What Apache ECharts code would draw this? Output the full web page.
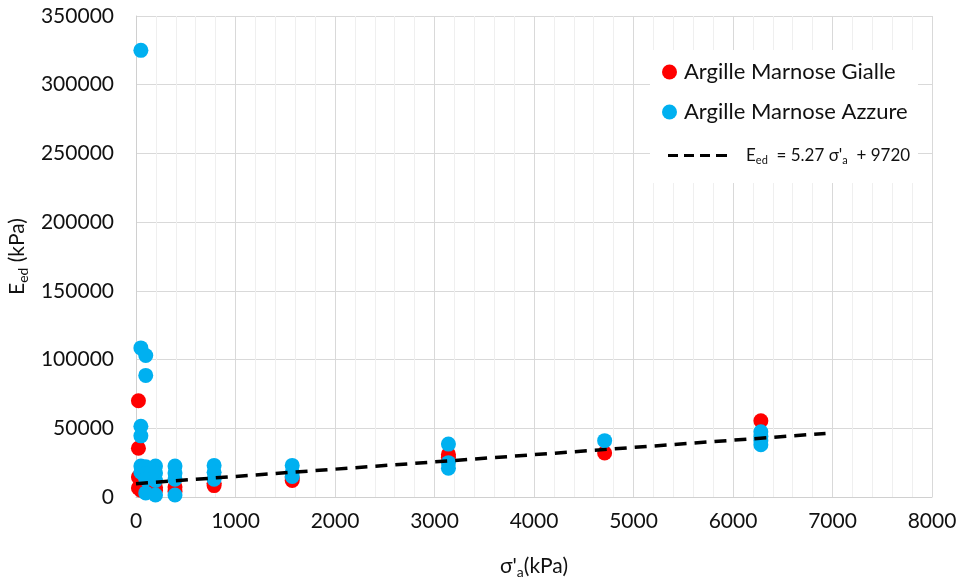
<!DOCTYPE html>
<html>
<head>
<meta charset="utf-8">
<script src="https://cdn.jsdelivr.net/npm/echarts@6/dist/echarts.min.js"></script>
<style>
  html, body { margin: 0; padding: 0; background: #fff; }
  #chart { width: 958px; height: 581px; }
</style>
</head>
<body>
<div id="chart"></div>
<script>
// Oedometer data: vertical stress (kPa) vs oedometric modulus (kPa)
const gialleStress = [24.5, 24.5, 24.5, 24.5, 49, 49, 98, 98, 196, 196, 392, 392, 785, 785, 1570, 1570, 3140, 3140, 4710, 6280];
const gialleModulus = [70000, 35500, 14500, 6500, 12000, 5000, 9500, 5500, 7000, 5000, 7300, 4000, 10000, 8300, 14000, 12000, 31000, 29000, 32000, 55500];

const azzureStress = [49, 49, 98, 98, 49, 49, 49, 49, 98, 98, 98, 98, 196, 196, 196, 196, 392, 392, 392, 392, 785, 785, 785, 1570, 1570, 1570, 3140, 3140, 3140, 4710, 6280, 6280, 6280, 6280];
const azzureModulus = [325000, 108500, 103000, 88500, 51500, 44500, 22500, 18000, 22000, 17000, 13000, 3000, 22500, 17500, 12000, 1500, 22500, 17500, 13000, 1500, 23000, 18000, 13000, 23000, 18000, 15000, 38500, 25000, 21000, 41000, 47500, 44000, 41000, 38000];

// Linear trend: E_ed = 5.27 σ'a + 9720, drawn over this stress range
const trendSlope = 5.27;
const trendIntercept = 9720;
const trendRange = [0, 6930];

const xTicks = [0, 1000, 2000, 3000, 4000, 5000, 6000, 7000, 8000];
const yTicks = [0, 50000, 100000, 150000, 200000, 250000, 300000, 350000];

const pairs = (xs, ys) => xs.map((x, i) => [x, ys[i]]);
const trendData = trendRange.map(x => [x, trendSlope * x + trendIntercept]);

const FONT = 'Lato';
const chart = echarts.init(document.getElementById('chart'), null, { renderer: 'canvas' });

chart.setOption({
  animation: false,
  backgroundColor: '#ffffff',
  textStyle: { fontFamily: FONT },
  grid: { left: 136, right: 26, top: 16, bottom: 84, containLabel: false, outerBoundsMode: 'none' },
  xAxis: {
    type: 'value',
    min: xTicks[0],
    max: xTicks[xTicks.length - 1],
    interval: 1000,
    name: "{t|σ'}{s|a}{t|(kPa)}",
    nameLocation: 'middle',
    nameGap: 56,
    nameTextStyle: {
      rich: {
        t: { fontFamily: FONT, fontSize: 21, color: '#111' },
        s: { fontFamily: FONT, fontSize: 14, color: '#111', padding: [12, 0, 0, 0] }
      }
    },
    axisLine: { show: true, lineStyle: { color: '#d0d0d0', width: 1 } },
    axisTick: { show: false },
    axisLabel: { fontSize: 21, color: '#111', margin: 14, fontFamily: FONT, formatter: v => String(v) },
    splitLine: { show: true, lineStyle: { color: '#d9d9d9', width: 1 } },
    minorTick: { show: false, splitNumber: 5 },
    minorSplitLine: { show: true, lineStyle: { color: '#efefef', width: 1 } }
  },
  yAxis: {
    type: 'value',
    min: yTicks[0],
    max: yTicks[yTicks.length - 1],
    interval: 50000,
    name: '{t|E}{s|ed}{t| (kPa)}',
    nameLocation: 'middle',
    nameGap: 100,
    nameTextStyle: {
      rich: {
        t: { fontFamily: FONT, fontSize: 21, color: '#111' },
        s: { fontFamily: FONT, fontSize: 14, color: '#111', padding: [12, 0, 0, 0] }
      }
    },
    axisLine: { show: true, lineStyle: { color: '#d0d0d0', width: 1 } },
    axisTick: { show: false },
    axisLabel: { fontSize: 21, color: '#111', margin: 22, fontFamily: FONT, formatter: v => String(v) },
    splitLine: { show: true, lineStyle: { color: '#d9d9d9', width: 1 } }
  },
  legend: [
    {
      data: [
        { name: 'Argille Marnose Gialle', icon: 'circle' },
        { name: 'Argille Marnose Azzure', icon: 'circle' }
      ],
      orient: 'vertical',
      left: 662,
      top: 61,
      itemWidth: 15,
      itemHeight: 15,
      itemGap: 18,
      padding: 0,
      textStyle: { fontFamily: FONT, fontSize: 22, color: '#111', lineHeight: 22, padding: [0, 0, 0, 2] },
      z: 6
    },
    {
      data: [{ name: 'trend', icon: 'path://M0,0h10v3h-10z M16,0h10v3h-10z M32,0h10v3h-10z M48,0h11v3h-11z' }],
      left: 668,
      top: 147,
      itemWidth: 59,
      itemHeight: 3,
      padding: 0,
      itemStyle: { borderWidth: 0 },
      formatter: () => "{t|E}{s|ed}{t|  = 5.27 σ'}{s|a}{t|  + 9720}",
      textStyle: {
        padding: [0, 0, 0, 14],
        rich: {
          t: { fontFamily: FONT, fontSize: 17, color: '#111' },
          s: { fontFamily: FONT, fontSize: 11, color: '#111', padding: [9, 0, 0, 0] }
        }
      },
      z: 6
    }
  ],
  graphic: [
    {
      type: 'rect',
      shape: { x: 650, y: 50, width: 268, height: 133 },
      style: { fill: '#ffffff' },
      z: 3,
      silent: true
    }
  ],
  series: [
    {
      name: 'Argille Marnose Gialle',
      type: 'scatter',
      data: pairs(gialleStress, gialleModulus),
      symbol: 'circle',
      symbolSize: 15,
      itemStyle: { color: '#ff0000', opacity: 1 },
      z: 2
    },
    {
      name: 'Argille Marnose Azzure',
      type: 'scatter',
      data: pairs(azzureStress, azzureModulus),
      symbol: 'circle',
      symbolSize: 15,
      itemStyle: { color: '#00b0f0', opacity: 1 },
      z: 3
    },
    {
      name: 'trend',
      type: 'line',
      data: trendData,
      symbol: 'none',
      lineStyle: { color: '#000', width: 3.5, type: [12, 8] },
      itemStyle: { color: '#000' },
      z: 4
    }
  ]
});
</script>
</body>
</html>
